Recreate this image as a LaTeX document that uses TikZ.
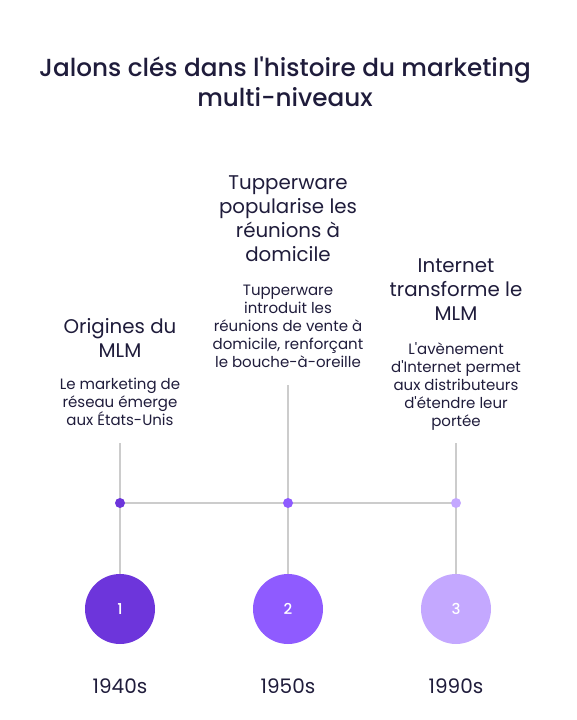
\documentclass[tikz,border=0pt]{standalone}
\usepackage{fontspec}
\setmainfont{Poppins}[Ligatures=TeXOff]
\newfontfamily\medfont{Poppins Medium}[Ligatures=TeXOff]
\definecolor{ink}{HTML}{1F1C3B}
\definecolor{lin}{HTML}{CCCCCC}
\definecolor{cA}{HTML}{6D35DB}
\definecolor{cB}{HTML}{8F5BFF}
\definecolor{cC}{HTML}{C4A8FF}
\begin{document}
\begin{tikzpicture}[x=1pt,y=-1pt,
  title/.style={text=ink,align=center,font={\medfont\fontsize{24.7}{30}\selectfont}},
  head/.style={text=ink,align=center,font={\fontsize{19.8}{24}\selectfont}},
  desc/.style={text=ink,align=center,font={\fontsize{15}{18}\selectfont}},
  year/.style={text=ink,font={\fontsize{20}{24}\selectfont}},
  bigc/.style={circle,minimum size=70pt,inner sep=0pt,text=white,font={\medfont\fontsize{15}{16}\selectfont}},
  dotc/.style={circle,minimum size=10pt,inner sep=0pt},
  conn/.style={draw=lin,line width=2pt}]
\useasboundingbox (0,0) rectangle (576,720);
\node[title] (t) at (285,82) {Jalons clés dans l'histoire du marketing\\multi-niveaux};

\node[head] (h1) at (120,338) {Origines du\\MLM};
\node[desc] (d1) at (120,402) {Le marketing de\\réseau émerge\\aux États-Unis};
\node[head] (h2) at (288,219) {Tupperware\\popularise les\\réunions à\\domicile};
\node[desc] (d2) at (288,326) {Tupperware\\introduit les\\réunions de vente à\\domicile, renforçant\\le bouche-à-oreille};
\node[head] (h3) at (456,290) {Internet\\transforme le\\MLM};
\node[desc] (d3) at (456,386) {L'avènement\\d'Internet permet\\aux distributeurs\\d'étendre leur\\portée};

\coordinate (s1) at (120,443);
\coordinate (s2) at (288,385);
\coordinate (s3) at (456,443);

\node[bigc,fill=cA] (c1) at (120,609) {1};
\node[bigc,fill=cB] (c2) at (288,609) {2};
\node[bigc,fill=cC] (c3) at (456,609) {3};

\draw[conn] (s1) -- (c1);
\draw[conn] (s2) -- (c2);
\draw[conn] (s3) -- (c3);

\coordinate (p1) at (120,503);
\coordinate (p2) at (288,503);
\coordinate (p3) at (456,503);
\draw[conn] (p1) -- (p2) -- (p3);
\node[dotc,fill=cA] (e1) at (p1) {};
\node[dotc,fill=cB] (e2) at (p2) {};
\node[dotc,fill=cC] (e3) at (p3) {};

\node[year] (y1) at (120,686) {1940s};
\node[year] (y2) at (288,686) {1950s};
\node[year] (y3) at (456,686) {1990s};
\end{tikzpicture}
\end{document}
